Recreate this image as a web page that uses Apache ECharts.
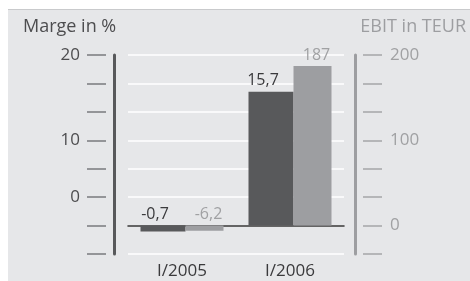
<!DOCTYPE html>
<html><head><meta charset="utf-8">
<script src="https://cdn.jsdelivr.net/npm/echarts@6/dist/echarts.min.js"></script>
<style>html,body{margin:0;padding:0;background:#fff}#c{width:470px;height:281px}</style>
</head><body><div id="c"></div>
<script>
const categories = ['I/2005', 'I/2006'];
const margeValues = [-0.7, 15.7];
const ebitValues = [-6.2, 187];
const leftTickLabels = {'20': '20', '10': '10', '3.33': '0'};
const rightTickLabels = {'200': '200', '100': '100', '0': '0'};
const leftTitle = 'Marge in %';
const rightTitle = 'EBIT in TEUR';

const FONT = 'Open Sans';
const fmt = v => String(v).replace('.', ',');
const pick = (map) => (v) => { for (const k in map) { if (Math.abs(v - parseFloat(k)) < 0.05) return map[k]; } return ''; };

const chart = echarts.init(document.getElementById('c'));
const gridTop = 55, gridBottom = 281 - 254;
const leftMin = -10/3, leftMax = 20, leftInt = 10/3;
const rightMin = -100/3, rightMax = 200, rightInt = 100/3;

chart.setOption({
  animation: false,
  textStyle: {fontFamily: FONT},
  graphic: [
    {type: 'rect', z: -10, shape: {x: 8, y: 9, width: 470, height: 281}, style: {fill: '#e6e7e9'}},
    {type: 'line', z: -9, shape: {x1: 8, y1: 9.5, x2: 470, y2: 9.5}, style: {stroke: '#c9cacc', lineWidth: 1}},
    {type: 'text', left: 23, top: 18, style: {text: leftTitle, fontSize: 18, fontFamily: FONT, fill: '#4d4d4f'}},
    {type: 'text', right: 4, top: 18, style: {text: rightTitle, fontSize: 18, fontFamily: FONT, fill: '#9d9ea1'}}
  ],
  grid: {left: 128, right: 470 - 344, top: gridTop, bottom: gridBottom, outerBoundsMode: 'none', containLabel: false},
  xAxis: {
    type: 'category', data: categories,
    axisLine: {show: true, onZero: true, lineStyle: {color: '#333', width: 1.5}},
    axisTick: {show: false},
    axisLabel: {margin: 9, fontSize: 17, color: '#3a3a3c', fontFamily: FONT}
  },
  yAxis: [
    {type: 'value', position: 'left', offset: 14, min: leftMin, max: leftMax, interval: leftInt,
     axisLine: {show: true, lineStyle: {color: '#58595b', width: 3}},
     axisTick: {show: false}, axisLabel: {show: false},
     splitLine: {show: true, lineStyle: {color: '#ffffff', width: 1.5}}},
    {type: 'value', position: 'left', offset: 22, min: leftMin, max: leftMax, interval: leftInt,
     axisLine: {show: false},
     axisTick: {show: true, length: 19, lineStyle: {color: '#7a7b7d', width: 1.5}},
     axisLabel: {show: true, margin: 26, fontSize: 17, color: '#4d4d4f', fontFamily: FONT, formatter: pick(leftTickLabels)},
     splitLine: {show: false}},
    {type: 'value', position: 'right', offset: 11, min: rightMin, max: rightMax, interval: rightInt,
     axisLine: {show: true, lineStyle: {color: '#9d9ea1', width: 3}},
     axisTick: {show: false}, axisLabel: {show: false}, splitLine: {show: false}},
    {type: 'value', position: 'right', offset: 19, min: rightMin, max: rightMax, interval: rightInt,
     axisLine: {show: false},
     axisTick: {show: true, length: 19, lineStyle: {color: '#a5a6a8', width: 1.5}},
     axisLabel: {show: true, margin: 27, fontSize: 17, color: '#a0a1a3', fontFamily: FONT, formatter: pick(rightTickLabels)},
     splitLine: {show: false}}
  ],
  series: [
    {type: 'bar', name: leftTitle, yAxisIndex: 0, data: margeValues, barWidth: 45, barGap: '0%',
     itemStyle: {color: '#58595b'},
     label: {show: true, position: 'top', distance: 3, offset: [-8, 0], fontSize: 16, color: '#3a3a3c', fontFamily: FONT, formatter: p => fmt(p.value)}},
    {type: 'bar', name: rightTitle, yAxisIndex: 2, data: ebitValues, barWidth: 38, barGap: '0%',
     itemStyle: {color: '#9d9ea1'},
     label: {show: true, position: 'top', distance: 3, offset: [4, 0], fontSize: 16, color: '#a0a1a3', fontFamily: FONT, formatter: p => fmt(p.value)}}
  ]
});
</script></body></html>
